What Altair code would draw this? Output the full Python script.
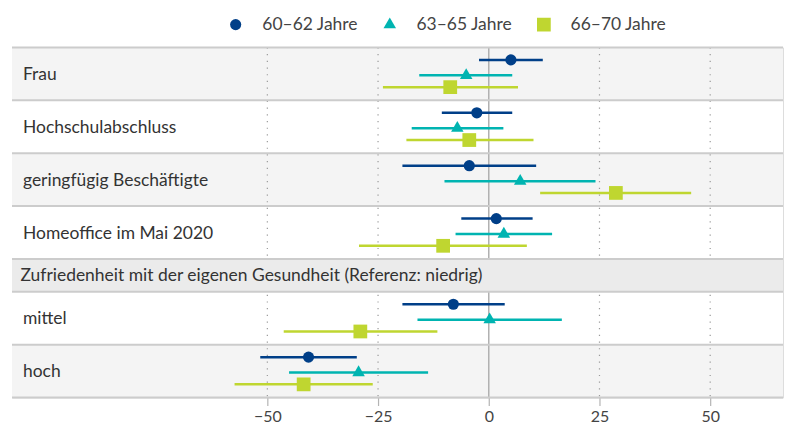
import altair as alt
import pandas as pd

# ---- data ----
row_labels = [
    "Frau",
    "Hochschulabschluss",
    "geringfügig Beschäftigte",
    "Homeoffice im Mai 2020",
    "Zufriedenheit mit der eigenen Gesundheit (Referenz: niedrig)",
    "mittel",
    "hoch",
]
row_is_header = [False, False, False, False, True, False, False]
row_heights = [1, 1, 1, 1, 0.62, 1, 1]
row_fill = ["#f4f4f4", "#ffffff", "#f4f4f4", "#ffffff", "#ebebeb", "#ffffff", "#f4f4f4"]

data_rows = ["Frau", "Hochschulabschluss", "geringfügig Beschäftigte",
             "Homeoffice im Mai 2020", "mittel", "hoch"]
groups = ["60–62 Jahre", "63–65 Jahre", "66–70 Jahre"]
group_colors = ["#003f88", "#00b4b1", "#bfd630"]
group_shapes = ["circle", "M-1,0.577L1,0.577L0,-1.155Z", "square"]
group_sizes = [125, 190, 135]
group_offset = [-0.264, 0.028, 0.251]

est_60 = [5.0, -2.7, -4.4, 1.7, -8.0, -40.7]
lo_60 = [-2.2, -10.6, -19.5, -6.2, -19.5, -51.6]
hi_60 = [12.2, 5.3, 10.7, 9.9, 3.6, -29.8]

est_63 = [-5.1, -7.1, 7.1, 3.4, 0.2, -29.4]
lo_63 = [-15.7, -17.4, -10.0, -7.5, -16.1, -45.1]
hi_63 = [5.3, 3.3, 24.1, 14.3, 16.5, -13.7]

est_66 = [-8.7, -4.4, 28.7, -10.3, -29.0, -41.8]
lo_66 = [-23.9, -18.6, 11.6, -29.3, -46.3, -57.4]
hi_66 = [6.6, 10.1, 45.7, 8.6, -11.6, -26.2]

tick_values = [-50, -25, 0, 25, 50]
grid_values = [-50, -25, 25, 50]
x_domain = [-107.66, 66.44]

FONT = "Lato"
W = 773
H = 351

# ---- layout tables ----
tops = []
acc = 0.0
for h in row_heights:
    tops.append(acc)
    acc += h
total = acc

rows_df = pd.DataFrame({
    "label": row_labels,
    "header": row_is_header,
    "top": tops,
    "bottom": [t + h for t, h in zip(tops, row_heights)],
    "fill": row_fill,
})
rows_df["center"] = (rows_df["top"] + rows_df["bottom"]) / 2
center_of = dict(zip(rows_df["label"], rows_df["center"]))

bounds_df = pd.DataFrame({"b": sorted(set(list(rows_df["top"]) + list(rows_df["bottom"])))})

recs = []
for g, est, lo, hi, off in zip(groups, [est_60, est_63, est_66], [lo_60, lo_63, lo_66],
                               [hi_60, hi_63, hi_66], group_offset):
    for r, e, l, h in zip(data_rows, est, lo, hi):
        recs.append({"row": r, "group": g, "est": e, "lo": l, "hi": h,
                     "ypos": center_of[r] + off})
pts = pd.DataFrame(recs)

grid_df = pd.DataFrame({"v": grid_values})
zero_df = pd.DataFrame({"v": [0]})

xscale = alt.Scale(domain=x_domain, nice=False, zero=False)
yscale = alt.Scale(domain=[0, total], reverse=True, nice=False, zero=False)

xaxis = alt.Axis(values=tick_values, grid=False, domain=False, title=None,
                 tickColor="#b4b4b4", tickSize=8, tickWidth=1.2,
                 labelFontSize=16, labelColor="#444444", labelFont=FONT, labelPadding=3)

legend = alt.Legend(title=None, orient="none", direction="horizontal",
                    legendX=215.5, legendY=-32,
                    labelFontSize=17.5, labelFont=FONT, labelColor="#444444",
                    columnPadding=22.5, labelOffset=18, symbolStrokeWidth=0)
color_enc = alt.Color("group:N", scale=alt.Scale(domain=groups, range=group_colors), legend=legend)
shape_enc = alt.Shape("group:N", scale=alt.Scale(domain=groups, range=group_shapes), legend=legend)
size_enc = alt.Size("group:N", scale=alt.Scale(domain=groups, range=group_sizes), legend=legend)

base_rows = alt.Chart(rows_df)

bands = base_rows.transform_filter("!datum.header").mark_rect().encode(
    x=alt.value(0), x2=alt.value(W),
    y=alt.Y("top:Q", scale=yscale, axis=None), y2="bottom:Q",
    fill=alt.Fill("fill:N", scale=None),
)

grid = alt.Chart(grid_df).mark_rule(color="#9a9a9a", strokeWidth=1.2, strokeDash=[1.2, 5.5]).encode(
    x=alt.X("v:Q", scale=xscale, axis=xaxis),
)
zero = alt.Chart(zero_df).mark_rule(color="#b0b0b0", strokeWidth=1.5).encode(
    x=alt.X("v:Q", scale=xscale),
)

header_band = base_rows.transform_filter("datum.header").mark_rect().encode(
    x=alt.value(0), x2=alt.value(W),
    y=alt.Y("top:Q", scale=yscale), y2="bottom:Q",
    fill=alt.Fill("fill:N", scale=None),
)

seps = alt.Chart(bounds_df).mark_rule(color="#cccccc", strokeWidth=2).encode(
    y=alt.Y("b:Q", scale=yscale),
)

bars = alt.Chart(pts).mark_rule(strokeWidth=2.5).encode(
    x=alt.X("lo:Q", scale=xscale), x2="hi:Q",
    y=alt.Y("ypos:Q", scale=yscale),
    color=color_enc,
)

points = alt.Chart(pts).mark_point(filled=True, opacity=1).encode(
    x=alt.X("est:Q", scale=xscale),
    y=alt.Y("ypos:Q", scale=yscale),
    color=color_enc,
    shape=shape_enc,
    size=size_enc,
)

labels = base_rows.transform_filter("!datum.header").mark_text(
    align="left", baseline="middle", font=FONT, fontSize=17.5, color="#333333", dy=1
).encode(x=alt.value(11), y=alt.Y("center:Q", scale=yscale), text="label:N")

header_label = base_rows.transform_filter("datum.header").mark_text(
    align="left", baseline="middle", font=FONT, fontSize=17.5, color="#333333", dy=1
).encode(x=alt.value(8.5), y=alt.Y("center:Q", scale=yscale), text="label:N")

chart = alt.layer(bands, grid, zero, header_band, seps, bars, points, labels, header_label).properties(
    width=W, height=H,
    padding={"left": 3, "top": 7, "right": 0, "bottom": 0},
).configure_view(stroke=None).configure(font=FONT)

chart.save("out.html", embed_options={"renderer": "svg", "actions": False})
